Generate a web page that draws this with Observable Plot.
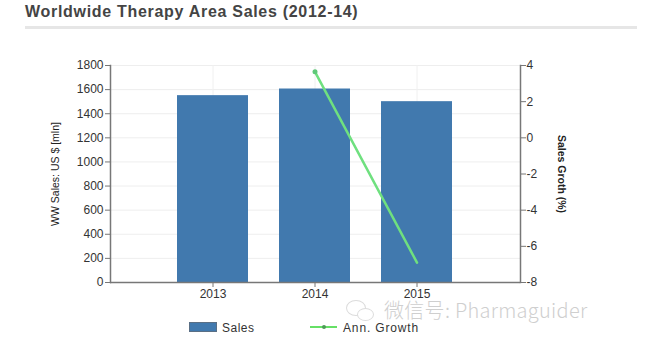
<!DOCTYPE html>
<html>
<head>
<meta charset="utf-8">
<script src="https://cdn.jsdelivr.net/npm/d3@7"></script>
<script src="https://cdn.jsdelivr.net/npm/@observablehq/plot@0.6"></script>
<style>
  html,body{margin:0;padding:0;background:#fff;}
  #wrap{position:relative;width:656px;height:352px;overflow:hidden;font-family:"Liberation Sans",Arial,sans-serif;}
  #title{position:absolute;left:25px;top:3px;font-size:16px;font-weight:bold;color:#444;letter-spacing:.7px;white-space:nowrap;}
  #rule{position:absolute;left:25px;top:26px;width:612px;height:3px;background:#e6e6e6;}
  #chart{position:absolute;left:0;top:0;}
  #legend{position:absolute;left:0;top:0;width:656px;height:352px;pointer-events:none;font-size:12px;color:#333;letter-spacing:.5px;}
  #legend .sw{position:absolute;left:189px;top:322px;width:28px;height:10px;background:#4179ae;border:1px solid #5a6f85;box-sizing:border-box;}
  #legend .t1{position:absolute;left:222px;top:321px;line-height:14px;}
  #legend .ln{position:absolute;left:310px;top:326px;width:27px;height:2px;background:#66e066;}
  #legend .dot{position:absolute;left:322px;top:325px;width:4px;height:4px;border-radius:2px;background:#4f9a58;}
  #legend .t2{position:absolute;left:343px;top:321px;line-height:14px;letter-spacing:.85px;}
  #mark{position:absolute;left:384px;top:302px;font-size:20px;line-height:15px;height:15px;color:#cfcfcf;font-family:"Noto Sans CJK SC","Liberation Sans",sans-serif;font-weight:300;white-space:nowrap;letter-spacing:.3px;}
  .bub{position:absolute;border:1.5px solid #dcdcdc;border-radius:50%;box-sizing:border-box;}
</style>
</head>
<body>
<div id="wrap">
  <div id="chart"></div>
  <div id="title">Worldwide Therapy Area Sales (2012-14)</div>
  <div id="rule"></div>
  <div class="bub" style="left:346px;top:300px;width:20px;height:16px;"></div>
  <div class="bub" style="left:357px;top:308px;width:17px;height:13px;background:#fff;"></div>
  <div id="mark">微信号: Pharmaguider</div>
  <div id="legend">
    <div class="sw"></div><div class="t1">Sales</div>
    <div class="ln"></div><div class="dot"></div><div class="t2">Ann. Growth</div>
  </div>
</div>
<script>
const years = ["2013", "2014", "2015"];
const sales = [1550, 1605, 1500];
const growthYears = ["2014", "2015"];
const growth = [3.65, -6.9];
const salesTicks = [0, 200, 400, 600, 800, 1000, 1200, 1400, 1600, 1800];
const growthTicks = [-8, -6, -4, -2, 0, 2, 4];

// growth axis (-8..4) shares the plot height with the sales axis (0..1800)
const toSales = d3.scaleLinear().domain([-8, 4]).range([0, 1800]);
const toGrowth = toSales.invert;

const barData = years.map((year, i) => ({year, value: sales[i]}));
const lineData = growthYears.map((year, i) => ({year, value: toSales(growth[i])}));

const axisColor = "#777";
const textColor = "#333";

const plot = Plot.plot({
  width: 656,
  height: 352,
  marginTop: 65,
  marginBottom: 70,
  marginLeft: 110,
  marginRight: 136,
  style: {fontFamily: '"Liberation Sans", Arial, sans-serif', fontSize: "12px", background: "transparent"},
  x: {type: "band", domain: years, padding: 0.3, paddingOuter: 0.65, label: null},
  y: {domain: [0, 1800], label: null},
  marks: [
    Plot.gridY(salesTicks, {stroke: "#eeeeee", strokeOpacity: 1}),
    Plot.gridX(years, {stroke: "#f0f0f0", strokeOpacity: 1}),
    Plot.barY(barData, {x: "year", y: "value", fill: "#4179ae"}),
    Plot.lineY(lineData, {x: "year", y: "value", stroke: "#6fe07f", strokeWidth: 2.5}),
    Plot.dot(lineData.slice(0, 1), {x: "year", y: "value", r: 2.5, fill: "#5fc878"}),
    Plot.ruleY([0], {stroke: axisColor, strokeWidth: 1.5}),
    Plot.axisY({
      anchor: "left", ticks: salesTicks, tickSize: 5, tickPadding: 2,
      tickFormat: d => String(d), label: null, stroke: axisColor, color: textColor
    }),
    Plot.axisY({
      anchor: "right", ticks: growthTicks.map(toSales), tickSize: 5, tickPadding: 1,
      tickFormat: d => String(Math.round(toGrowth(d))),
      label: null, stroke: axisColor, color: textColor
    }),
    Plot.axisX({
      anchor: "bottom", ticks: years, tickSize: 5, tickPadding: 2,
      label: null, stroke: axisColor, color: textColor
    }),
    Plot.frame({anchor: "left", stroke: axisColor, strokeWidth: 1.5}),
    Plot.frame({anchor: "right", stroke: axisColor, strokeWidth: 1.5}),
    Plot.text(["WW Sales: US $ [mln]"], {
      frameAnchor: "left", dx: -55, dy: 0, rotate: -90, fontSize: 10.5, fill: "#222",
      textAnchor: "middle"
    }),
    Plot.text(["Sales Groth (%)"], {
      frameAnchor: "right", dx: 41, dy: 0, rotate: 90, fontSize: 10.5, fontWeight: "bold", fill: "#222",
      textAnchor: "middle"
    })
  ]
});
document.getElementById("chart").appendChild(plot);
</script>
</body>
</html>
